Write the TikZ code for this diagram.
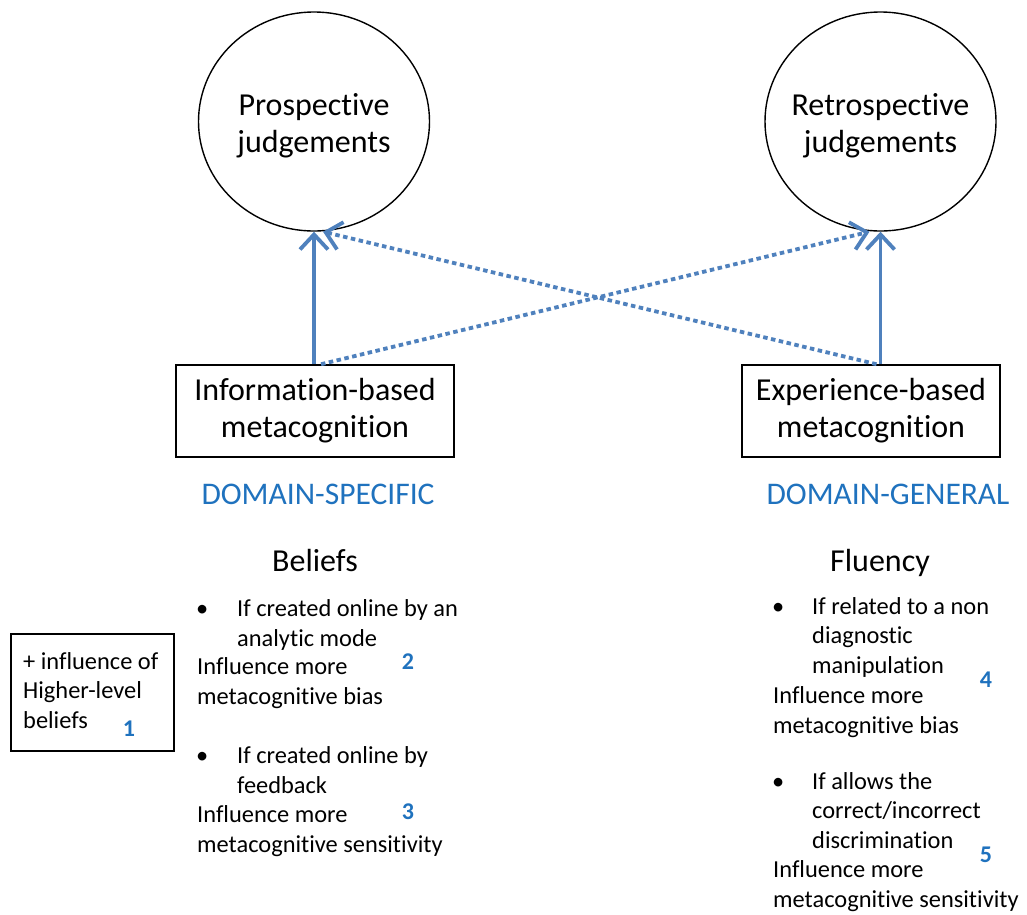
\documentclass[tikz,border=0pt]{standalone}
\usepackage{fontspec}
\setmainfont{Carlito}[Ligatures=NoCommon]
\usetikzlibrary{arrows.meta,shapes.geometric,calc}
\definecolor{arrblue}{RGB}{79,129,189}
\definecolor{txtblue}{RGB}{31,114,190}
\tikzset{
  bigtxt/.style={font=\fontsize{32}{37}\selectfont},
  bodytxt/.style={font=\fontsize{24.4}{29.3}\selectfont, inner sep=0pt, align=left},
  judge/.style={ellipse, draw=black, line width=1.4pt, minimum width=231pt, minimum height=219pt, inner sep=0pt},
  metabox/.style={draw=black, line width=1.6pt, minimum height=92pt, inner sep=0pt, bigtxt, align=center},
  solidarr/.style={draw=arrblue, line width=3.8pt, -{Straight Barb[length=15pt,width=28pt]}},
  dotarr/.style={draw=arrblue, line width=3.8pt, dash pattern=on 4.5pt off 3.5pt, -{Straight Barb[length=15pt,width=28pt]}},
  domlabel/.style={font=\fontsize{31.5}{34}\selectfont, text=txtblue, inner sep=0pt},
  numlabel/.style={font=\fontsize{24}{28}\selectfont\bfseries, text=txtblue, inner sep=0pt},
}
\begin{document}
\begin{tikzpicture}[x=1pt,y=-1pt]
\useasboundingbox (0,0) rectangle (1027,914);
\fill[white] (0,0) rectangle (1027,914);
% circles
\node[judge] (lcirc) at (314,121.5) {};
\node[judge] (rcirc) at (880.5,121.5) {};
\node[bigtxt, anchor=base, inner sep=0pt, align=center] (ltxt) at (314,152) {Prospective\\judgements};
\node[bigtxt, anchor=base, inner sep=0pt, align=center] (rtxt) at (880.5,152) {Retrospective\\judgements};
% boxes
\node[metabox, minimum width=278pt] (lbox) at (315,411) {Information-based\\metacognition};
\node[metabox, minimum width=258pt] (rbox) at (871,411) {Experience-based\\metacognition};
% arrows
\draw[solidarr] (lbox.north -| lcirc.south) -- (lcirc.south);
\draw[solidarr] (rbox.north -| rcirc.south) -- (rcirc.south);
\coordinate (ls) at ($(lbox.north -| lcirc.south)+(7,0)$);
\coordinate (rs) at ($(rbox.north -| rcirc.south)+(-4,0)$);
\coordinate (le) at ($(lcirc.south)+(9,0)$);
\coordinate (re) at ($(rcirc.south)+(-11,0)$);
\draw[dotarr] (ls) -- (re);
\draw[dotarr] (rs) -- (le);
% domain labels
\node[domlabel, anchor=base] (dspec) at (318,504) {DOMAIN-SPECIFIC};
\node[domlabel, anchor=base] (dgen) at (888,504) {DOMAIN-GENERAL};
% headings
\node[bigtxt, anchor=base, inner sep=0pt] (beliefs) at (315,571) {Beliefs};
\node[bigtxt, anchor=base, inner sep=0pt] (fluency) at (880,571) {Fluency};
% left small box
\node[draw=black, line width=1.4pt, minimum width=163pt, minimum height=117pt, inner sep=0pt] (hbox) at (92.5,692.5) {};
\node[bodytxt, anchor=base west] (htxt) at (23,728) {+ influence of\\Higher-level\\beliefs};
\node[numlabel] (n1) at (129,729) {1};
% beliefs list
\node[bodytxt, anchor=base west] (b1) at (237,646) {\llap{\textbullet\hspace{29pt}}If created online by an\\analytic mode};
\node[bodytxt, anchor=base west] (i1) at (197,704) {Influence more\\metacognitive bias};
\node[numlabel] (n2) at (408,662) {2};
\node[bodytxt, anchor=base west] (b2) at (237,793) {\llap{\textbullet\hspace{29pt}}If created online by\\feedback};
\node[bodytxt, anchor=base west] (i2) at (197,852) {Influence more\\metacognitive sensitivity};
\node[numlabel] (n3) at (408,812) {3};
% fluency list
\node[bodytxt, anchor=base west] (b3) at (812,673) {\llap{\textbullet\hspace{28pt}}If related to a non\\diagnostic\\manipulation};
\node[bodytxt, anchor=base west] (i3) at (773,733) {Influence more\\metacognitive bias};
\node[numlabel] (n4) at (986,680) {4};
\node[bodytxt, anchor=base west] (b4) at (812,848) {\llap{\textbullet\hspace{28pt}}If allows the\\correct/incorrect\\discrimination};
\node[bodytxt, anchor=base west] (i4) at (773,907) {Influence more\\metacognitive sensitivity};
\node[numlabel] (n5) at (986,855) {5};
\end{tikzpicture}
\end{document}
